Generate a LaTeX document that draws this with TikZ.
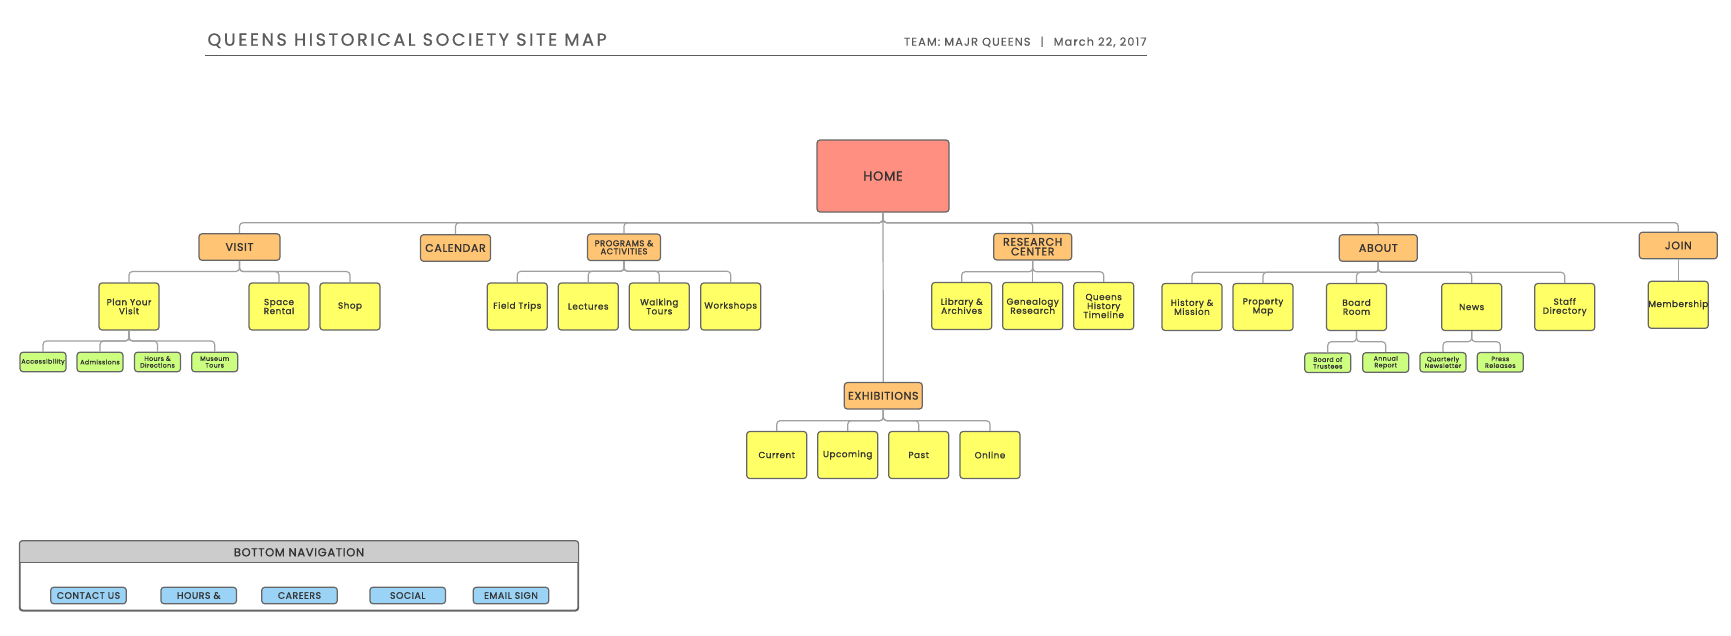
\documentclass[tikz,border=0pt]{standalone}
\usepackage{fontspec}
\setmainfont{Poppins}
\newfontfamily\boxfont{Poppins}[LetterSpace=6,FakeBold=1]
\newfontfamily\titlefont{Poppins}[LetterSpace=15,FakeBold=0.8]
\newfontfamily\teamfont{Poppins}[LetterSpace=10,FakeBold=0.6]
\definecolor{homec}{HTML}{FF8F80}
\definecolor{orangec}{HTML}{FFC474}
\definecolor{yellowc}{HTML}{FFFF66}
\definecolor{greenc}{HTML}{CCFF80}
\definecolor{bluec}{HTML}{9AD3F5}
\definecolor{grayc}{HTML}{CCCCCC}
\definecolor{edgec}{HTML}{666666}
\definecolor{linec}{HTML}{A0A0A0}
\definecolor{txtc}{HTML}{333333}
\definecolor{titlec}{HTML}{5C5C5C}
\tikzset{
  basebox/.style={draw=edgec, line width=1.2pt, rounded corners=3pt, text=txtc, align=center, inner sep=0pt},
  homebox/.style={basebox, fill=homec, minimum width=132pt, minimum height=72pt, font=\boxfont\fontsize{13}{15}\selectfont},
  lone/.style={basebox, fill=orangec, minimum width=78pt, minimum height=26.5pt, font=\boxfont\fontsize{11}{9.7}\selectfont},
  leaf/.style={basebox, fill=yellowc, minimum width=60pt, minimum height=47pt, font=\boxfont\fontsize{8.8}{9}\selectfont},
  subleaf/.style={basebox, fill=greenc, minimum width=46pt, minimum height=19.5pt, font=\boxfont\fontsize{6.3}{6.7}\selectfont},
  navbtn/.style={basebox, fill=bluec, minimum width=75.6pt, minimum height=16.4pt, font=\boxfont\fontsize{9.3}{10}\selectfont},
  conn/.style={draw=linec, line width=1.2pt, rounded corners=3.5pt},
}
\begin{document}
\begin{tikzpicture}[x=1pt,y=-1pt]
\path[use as bounding box] (0,0) rectangle (1731,635);

% title
\node[anchor=base west, inner sep=0pt, font=\titlefont\fontsize{17.5}{20}\selectfont, text=titlec] (title) at (207.3,45.7) {QUEENS HISTORICAL SOCIETY SITE MAP};
\node[anchor=base east, inner sep=0pt, font=\teamfont\fontsize{11.3}{13}\selectfont, text=titlec] (team) at (1146.7,45.7) {TEAM: MAJR QUEENS\hspace{10pt}|\hspace{10pt}March 22, 2017};
\coordinate (ulL) at (205,55.7);
\coordinate (ulR) at (1146.7,55.7);
\draw[titlec, line width=1pt] (ulL) -- (ulR);

% bus coordinates
\coordinate (hb) at (0,222.7);
\coordinate (vb) at (0,271.5);
\coordinate (pb) at (0,271.3);
\coordinate (rb) at (0,271.7);
\coordinate (ab) at (0,272.3);
\coordinate (plb) at (0,341);
\coordinate (bb) at (0,341.7);
\coordinate (nb) at (0,341.7);
\coordinate (eb) at (0,420.7);

% nodes
\node[homebox] (home) at (883,176) {HOME};

\node[lone, minimum width=81pt] (visit) at (239.5,247) {VISIT};
\node[lone, minimum width=70pt] (calendar) at (455.5,248) {CALENDAR};
\node[lone, minimum width=73pt, font=\boxfont\fontsize{8.4}{8}\selectfont] (programs) at (624,247.3) {PROGRAMS \&\\ACTIVITIES};
\node[lone] (research) at (1032.7,246.7) {RESEARCH\\CENTER};
\node[lone] (about) at (1378.3,248) {ABOUT};
\node[lone] (join) at (1678.3,245.5) {JOIN};
\node[lone] (exhib) at (883.3,395.8) {EXHIBITIONS};

\node[leaf] (plan) at (129,306.5) {Plan Your\\Visit};
\node[leaf] (space) at (279,306.5) {Space\\Rental};
\node[leaf] (shop) at (350,306.5) {Shop};
\node[leaf] (field) at (517.3,306.5) {Field Trips};
\node[leaf] (lect) at (588.3,306.5) {Lectures};
\node[leaf] (walk) at (659.3,306.5) {Walking\\Tours};
\node[leaf] (work) at (730.7,306.5) {Workshops};
\node[leaf] (lib) at (961.7,306) {Library \&\\Archives};
\node[leaf] (gen) at (1032.7,306) {Genealogy\\Research};
\node[leaf] (qht) at (1103.7,306) {Queens\\History\\Timeline};
\node[leaf] (hist) at (1192,307) {History \&\\Mission};
\node[leaf] (prop) at (1263,307) {Property\\Map};
\node[leaf] (board) at (1356.5,307) {Board\\Room};
\node[leaf] (news) at (1471.7,307) {News};
\node[leaf] (staff) at (1564.7,307) {Staff\\Directory};
\node[leaf] (memb) at (1678.3,304.8) {Membership};
\node[leaf] (cur) at (776.7,455) {Current};
\node[leaf] (upc) at (847.7,455) {Upcoming};
\node[leaf] (past) at (918.7,455) {Past};
\node[leaf] (onl) at (990,455) {Online};

\node[subleaf] (acc) at (43,362) {Accessibility};
\node[subleaf] (adm) at (100,362) {Admissions};
\node[subleaf] (hours) at (157.5,362) {Hours \&\\Directions};
\node[subleaf] (mus) at (214.7,362) {Museum\\Tours};
\node[subleaf] (bot) at (1327.8,362.8) {Board of\\Trustees};
\node[subleaf] (ann) at (1385.7,362.5) {Annual\\Report};
\node[subleaf] (qn) at (1443,362.3) {Quarterly\\Newsletter};
\node[subleaf] (press) at (1500.3,362.3) {Press\\Releases};

% connectors
\foreach \c in {visit,calendar,programs,research,about,join}
  \draw[conn] (home.south) -- (home.south |- hb) -| (\c.north);
\draw[conn] (home.south) -- (exhib.north);
\foreach \c in {plan,space,shop}
  \draw[conn] (visit.south) -- (visit.south |- vb) -| (\c.north);
\foreach \c in {field,lect,walk,work}
  \draw[conn] (programs.south) -- (programs.south |- pb) -| (\c.north);
\foreach \c in {lib,gen,qht}
  \draw[conn] (research.south) -- (research.south |- rb) -| (\c.north);
\foreach \c in {hist,prop,board,news,staff}
  \draw[conn] (about.south) -- (about.south |- ab) -| (\c.north);
\draw[conn] (join.south) -- (memb.north);
\foreach \c in {acc,adm,hours,mus}
  \draw[conn] (plan.south) -- (plan.south |- plb) -| (\c.north);
\foreach \c in {bot,ann}
  \draw[conn] (board.south) -- (board.south |- bb) -| (\c.north);
\foreach \c in {qn,press}
  \draw[conn] (news.south) -- (news.south |- nb) -| (\c.north);
\foreach \c in {cur,upc,past,onl}
  \draw[conn] (exhib.south) -- (exhib.south |- eb) -| (\c.north);

% bottom navigation
\node[draw=edgec, line width=1.2pt, rounded corners=3pt, fill=white, minimum width=558pt, minimum height=69pt, inner sep=0pt] (nav) at (299,575.8) {};
\begin{scope}
  \clip[rounded corners=3pt] (nav.north west) rectangle (nav.south east);
  \fill[grayc] (nav.north west) rectangle ([yshift=-22pt]nav.north east);
\end{scope}
\draw[edgec, line width=1.2pt, rounded corners=3pt] (nav.north west) rectangle (nav.south east);
\draw[edgec, line width=1.2pt] ([yshift=-22pt]nav.north west) -- ([yshift=-22pt]nav.north east);
\node[inner sep=0pt, text=txtc, font=\boxfont\fontsize{11.5}{13}\selectfont] (navtitle) at (299,552.3) {BOTTOM NAVIGATION};

\node[navbtn] (contact) at (88.5,595.5) {CONTACT US};
\node[navbtn] (hoursb) at (198.7,595.5) {HOURS \&};
\node[navbtn] (careers) at (299.5,595.5) {CAREERS};
\node[navbtn] (social) at (407.7,595.5) {SOCIAL};
\node[navbtn] (email) at (511,595.5) {EMAIL SIGN};
\end{tikzpicture}
\end{document}
